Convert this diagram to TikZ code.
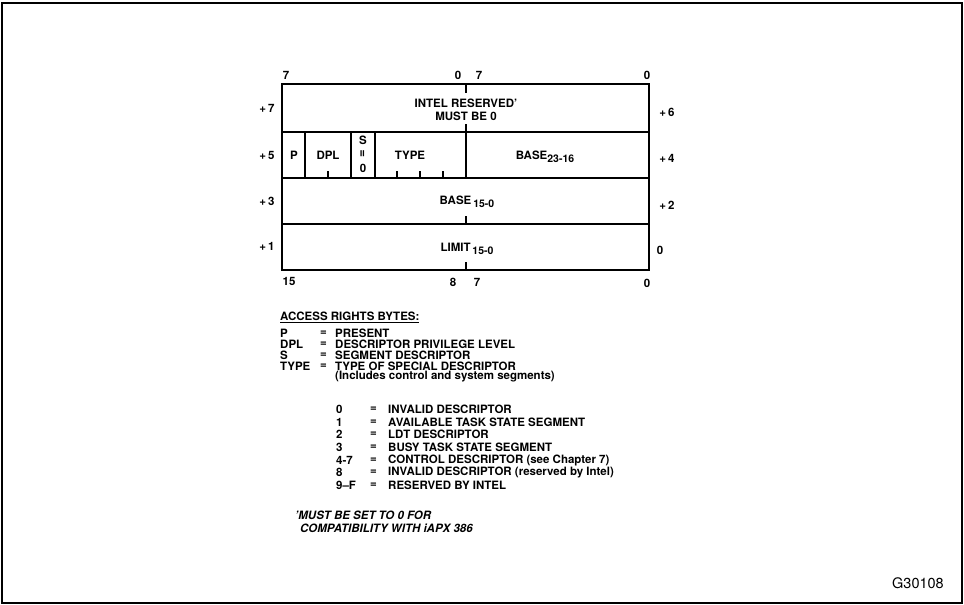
\documentclass[tikz,border=0pt]{standalone}
\usepackage{fontspec}
\setmainfont{TeX Gyre Heros}
\usetikzlibrary{positioning}
\newcommand\lowsub[1]{\raisebox{-0.45ex}{\fontsize{10.5}{11}\selectfont #1}}

\begin{document}
\begin{tikzpicture}[x=1pt, y=-1pt]
    \tikzset{
      txt/.style={inner sep=0pt, font=\bfseries\fontsize{11.5}{12}\selectfont},
      lefttxt/.style={txt, anchor=west},
      notetxt/.style={lefttxt, font=\bfseries\itshape\fontsize{11.5}{12}\selectfont},
      frameline/.style={line width=2.4pt},
      rowline/.style={line width=1.3pt},
      tick/.style={line width=1.3pt}
    }
    \useasboundingbox (0,0) rectangle (964,605);
    \draw[line width=1.6pt] (2,3) rectangle (962,603);

    % descriptor rows
    \draw[frameline] (282,84) rectangle (649,270);
    \foreach \y in {132,178,224}
      \draw[rowline] (282,\y) -- (649,\y);
    \draw[rowline] (466,124) -- (466,178);
    \foreach \x in {305,351,375}
      \draw[rowline] (\x,132) -- (\x,178);

    % byte and bit ticks
    \draw[tick] (466,84) -- (466,93);
    \draw[tick] (466,224) -- (466,216);
    \draw[tick] (466,270) -- (466,262);
    \foreach \x in {328,397,420,443}
      \draw[tick] (\x,178) -- (\x,171);

    % field texts
    \node[txt] (rsv1) at (466,103) {INTEL RESERVED'};
    \node[txt] (rsv2) at (466,116) {MUST BE 0};
    \node[txt] (fp) at (294,155) {P};
    \node[txt] (fdpl) at (328,155) {DPL};
    \node[txt] (fs1) at (363,140) {S};
    \node[txt] (fs2) at (363,154) {\rotatebox{90}{\fontsize{13}{13}\selectfont =}};
    \node[txt] (fs3) at (363,168) {0};
    \node[txt] (ftype) at (410,155) {TYPE};
    \node[txt] (fbasehi) at (545,157) {BASE\lowsub{23-16}};
    \node[txt] (fbaselo) at (467,202) {BASE\,\lowsub{15-0}};
    \node[txt] (flimit) at (467,249) {LIMIT\,\lowsub{15-0}};

    % bit numbers
    \node[txt] (t7a) at (286,75) {7};
    \node[txt] (t0a) at (458,75) {0};
    \node[txt] (t7b) at (479,75) {7};
    \node[txt] (t0b) at (647,75) {0};
    \node[txt] (b15) at (289,281) {15};
    \node[txt] (b8) at (453,282) {8};
    \node[txt] (b7) at (477,282) {7};
    \node[txt] (b0) at (647,283) {0};

    % byte offsets
    \foreach \n/\y in {7/108,5/155,3/201,1/246}
      \node[txt] (l\n) at (267,\y) {+\,\n};
    \foreach \n/\y in {6/112,4/158,2/205}
      \node[txt] (r\n) at (667,\y) {+\,\n};
    \node[txt] (r0) at (660,250) {0};

    % legend
    \node[lefttxt] (acc) at (280,317) {\underline{ACCESS RIGHTS BYTES:}};
    \foreach \k/\d/\y in {P/PRESENT/333, DPL/DESCRIPTOR PRIVILEGE LEVEL/344.5,
        S/SEGMENT DESCRIPTOR/355.5, TYPE/TYPE OF SPECIAL DESCRIPTOR/366} {
      \node[lefttxt] (k\y) at (280,\y) {\k};
      \node[lefttxt] (e\y) at (320,\y) {=};
      \node[lefttxt] (d\y) at (335,\y) {\d};
    }
    \node[lefttxt] (incl) at (335,377) {(Includes control and system segments)};

    \foreach \k/\d/\y in {0/INVALID DESCRIPTOR/409, 1/AVAILABLE TASK STATE SEGMENT/422,
        2/LDT DESCRIPTOR/434, 3/BUSY TASK STATE SEGMENT/447,
        4-7/{CONTROL DESCRIPTOR (see Chapter 7)}/460,
        8/{INVALID DESCRIPTOR (reserved by Intel)}/472, 9--F/RESERVED BY INTEL/485} {
      \node[lefttxt] (k\y) at (336,\y) {\k};
      \node[lefttxt] (e\y) at (370,\y) {=};
      \node[lefttxt] (d\y) at (388,\y) {\d};
    }

    % footnote
    \node[notetxt] (fn1) at (295,515) {'MUST BE SET TO 0 FOR};
    \node[notetxt] (fn2) at (300,528) {COMPATIBILITY WITH iAPX 386};

    \node[txt, anchor=east, font=\fontsize{14.5}{15}\selectfont] (fig) at (944,583) {G30108};
  \end{tikzpicture}
\end{document}
